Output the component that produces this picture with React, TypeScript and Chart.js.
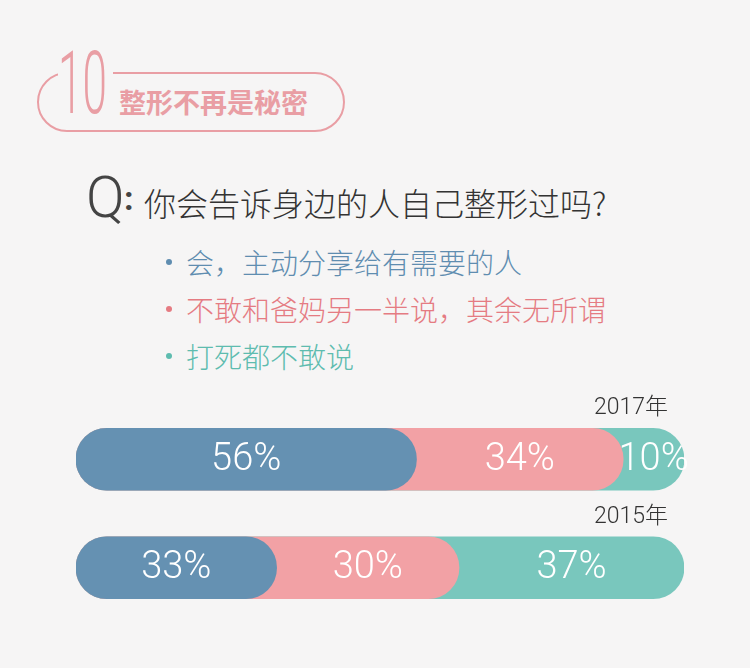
import { useEffect, useRef } from "react";
import { Chart, registerables } from "chart.js";

Chart.register(...registerables);

// survey: 你会告诉身边的人自己整形过吗?
const years = ["2017年", "2015年"];
const answers = ["会，主动分享给有需要的人", "不敢和爸妈另一半说，其余无所谓", "打死都不敢说"];
const willShare = [56, 33];
const hideFromFamily = [34, 30];
const neverTell = [10, 37];

const colors = ["#6591b2", "#f2a1a5", "#79c7bd"];
const textColors = ["#5f8db0", "#e57b82", "#5ebcaf"];
const bg = "#f6f5f5";
const pink = "#e99ea4";

const labelsPlugin = {
  id: "barLabels",
  afterDatasetsDraw(chart: any) {
    const { ctx, scales } = chart;
    const x = scales.x, y = scales.y;
    const series = [willShare, hideFromFamily, neverTell];
    ctx.save();
    years.forEach((yr, i) => {
      const cy = y.getPixelForValue(i);
      // year above the bar
      ctx.font = "300 23px Roboto, 'Noto Sans CJK SC'";
      ctx.fillStyle = "#333";
      ctx.textAlign = "right";
      ctx.textBaseline = "middle";
      ctx.fillText(yr, chart.chartArea.right - 16, cy - 51);
      // percentages centred on the visible part of each segment
      let start = 0;
      series.forEach((s) => {
        const end = start + s[i];
        const px = x.getPixelForValue((start + end) / 2);
        ctx.font = "300 38px Roboto";
        ctx.fillStyle = "#fff";
        ctx.textAlign = "center";
        ctx.fillText(s[i] + "%", px, cy + 1);
        start = end;
      });
    });
    ctx.restore();
  },
};

function BarChart() {
  const ref = useRef<HTMLCanvasElement | null>(null);

  useEffect(() => {
    if (!ref.current) return;
    const cum1 = willShare.map((v) => v);
    const cum2 = willShare.map((v, i) => v + hideFromFamily[i]);
    const cum3 = willShare.map((v, i) => v + hideFromFamily[i] + neverTell[i]);
    const cums = [cum1, cum2, cum3];

    const chart = new Chart(ref.current, {
      type: "bar",
      data: {
        labels: years,
        datasets: answers.map((a, k) => ({
          label: a,
          data: cums[k],
          backgroundColor: colors[k],
          borderRadius: 31,
          borderSkipped: false,
          barThickness: 62,
          grouped: false,
          order: k + 1,
        })),
      },
      options: {
        indexAxis: "y",
        responsive: false,
        animation: false,
        layout: { padding: { left: 76, right: 66, top: 25, bottom: 18 } },
        plugins: { legend: { display: false }, tooltip: { enabled: false } },
        scales: {
          x: { display: false, min: 0, max: 100 },
          y: { display: false },
        },
      },
      plugins: [labelsPlugin],
    });
    return () => chart.destroy();
  }, []);

  return <canvas ref={ref} width={750} height={260} style={{ position: "absolute", left: 0, top: 380 }} />;
}

export default function App() {
  const cjk = "'Noto Sans CJK SC', 'Noto Sans', sans-serif";
  return (
    <div style={{ position: "fixed", left: 0, top: 0, width: 750, height: 668, background: bg, overflow: "hidden", fontFamily: cjk }}>
      {/* header badge */}
      <div style={{ position: "absolute", left: 37, top: 72, width: 304, height: 56, border: `2px solid ${pink}`, borderRadius: 30 }} />
      <div style={{ position: "absolute", left: 58, top: 66, width: 55, height: 14, background: bg }} />
      <div style={{ position: "absolute", left: 58, top: 39, fontFamily: "Roboto, sans-serif", fontWeight: 300, fontSize: 88, lineHeight: "88px", color: pink, transform: "scaleX(0.5)", transformOrigin: "left" }}>10</div>
      <div style={{ position: "absolute", left: 119, top: 87, fontSize: 27, lineHeight: "30px", fontWeight: 700, color: pink, whiteSpace: "nowrap" }}>整形不再是秘密</div>

      {/* question */}
      <div style={{ position: "absolute", left: 86, top: 168, fontFamily: "Roboto, sans-serif", fontWeight: 300, fontSize: 57, lineHeight: "60px", color: "#444" }}>Q</div>
      <div style={{ position: "absolute", left: 124, top: 178, fontFamily: "Roboto, sans-serif", fontWeight: 700, fontSize: 34, lineHeight: "40px", color: "#444" }}>:</div>
      <div style={{ position: "absolute", left: 144, top: 185, fontSize: 32, lineHeight: "34px", fontWeight: 300, color: "#333", whiteSpace: "nowrap" }}>你会告诉身边的人自己整形过吗?</div>

      {answers.map((a, k) => (
        <div key={a} style={{ position: "absolute", left: 166, top: 246 + k * 47, height: 32, whiteSpace: "nowrap", display: "flex", alignItems: "center" }}>
          <span style={{ display: "inline-block", width: 6, height: 6, borderRadius: 3, background: textColors[k], marginRight: 14 }} />
          <span style={{ fontSize: 28, lineHeight: "32px", fontWeight: 300, color: textColors[k] }}>{a}</span>
        </div>
      ))}

      <BarChart />
    </div>
  );
}
